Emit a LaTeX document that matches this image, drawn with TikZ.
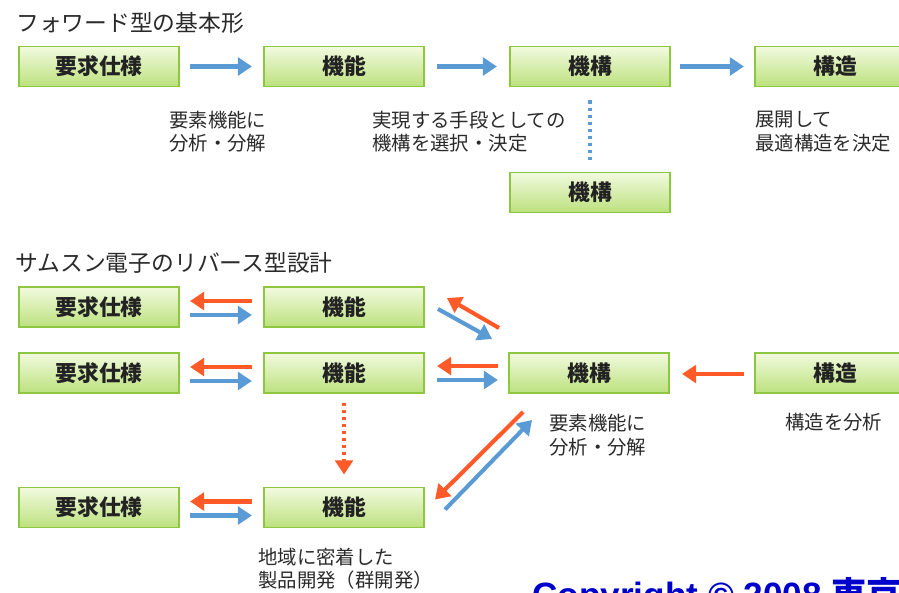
\documentclass[tikz,border=0pt]{standalone}
\usepackage{fontspec}
\setmainfont{Liberation Sans}
\newfontfamily\jp{Noto Sans CJK JP}
\usetikzlibrary{arrows.meta,calc}

\definecolor{boxline}{HTML}{8DC63F}
\definecolor{boxtop}{HTML}{F2FADF}
\definecolor{boxbottom}{HTML}{BCE17E}
\definecolor{arrblue}{HTML}{5B9BD5}
\definecolor{arrred}{HTML}{FF5A28}
\definecolor{txtdark}{HTML}{222222}
\definecolor{txtgray}{HTML}{2A2A2A}
\definecolor{cblue}{HTML}{0000CC}

\tikzset{
	kasten/.style={draw=boxline, line width=1.4pt, top color=boxtop, bottom color=boxbottom,
		minimum width=4.0cm, minimum height=1.0cm, inner sep=0pt,
		font=\jp\bfseries\fontsize{15.5}{18}\selectfont, text=txtdark},
	blau/.style={-{Triangle[length=10pt,width=12.5pt]}, line width=2.9pt, arrblue},
	rot/.style={-{Triangle[length=10pt,width=12.5pt]}, line width=2.9pt, arrred},
	punkte/.style={line width=2.4pt, dash pattern=on 2.3pt off 2.7pt, arrblue},
	notiz/.style={anchor=west, align=left, inner sep=0pt,
		font=\jp\fontsize{13.8}{16.6}\selectfont, text=txtgray},
	titel/.style={anchor=west, inner sep=0pt, font=\jp\fontsize{16.2}{18}\selectfont, text=txtgray}
}

\begin{document}
\begin{tikzpicture}
	[
	x=0.025cm, y=-0.025cm
	%Pixelraster des Originals, y nach unten
	]
	\useasboundingbox (0,0) rectangle (899,592);
	\clip (0,0) rectangle (899,592);
	
	%Vorwaerts
	\node[titel] (t1) at (16,23) {フォワード型の基本形};
	\node[kasten] (req) at (99,66.5) {要求仕様};
	\node[kasten] (func) at (344,66.5) {機能};
	\node[kasten] (mech) at (590,66.5) {機構};
	\node[kasten] (struct) at (835,66.5) {構造};
	\node[kasten] (mech2) at (590,192.5) {機構};
	
	\draw[blau] ($(req.east)+(10,0)$) -- ($(func.west)+(-11,0)$);
	\draw[blau] ($(func.east)+(12,0)$) -- ($(mech.west)+(-12,0)$);
	\draw[blau] ($(mech.east)+(9,0)$) -- ($(struct.west)+(-10,0)$);
	\draw[punkte] ($(mech.south)+(0,13)$) -- ($(mech2.north)+(0,-10)$);
	
	\node[notiz] (n1) at (169,131.5) {要素機能に\\分析・分解};
	\node[notiz] (n2) at (372,131.5) {実現する手段としての\\機構を選択・決定};
	\node[notiz] (n3) at (755,131.5) {展開して\\最適構造を決定};
	
	%Rueckwaerts
	\node[titel] (t2) at (15,263) {サムスン電子のリバース型設計};
	\node[kasten] (reqA) at (99,307) {要求仕様};
	\node[kasten] (funcA) at (344,307) {機能};
	\node[kasten] (reqB) at (99,373) {要求仕様};
	\node[kasten] (funcB) at (344,373) {機能};
	\node[kasten] (mechB) at (589,373) {機構};
	\node[kasten] (structB) at (835,373) {構造};
	\node[kasten] (reqC) at (99,507.5) {要求仕様};
	\node[kasten] (funcC) at (344,507.5) {機能};
	
	\draw[rot] ($(funcA.west)+(-11,-6)$) -- ($(reqA.east)+(10,-6)$);
	\draw[blau] ($(reqA.east)+(10,8)$) -- ($(funcA.west)+(-11,8)$);
	\draw[rot] ($(funcB.west)+(-11,-6)$) -- ($(reqB.east)+(10,-6)$);
	\draw[blau] ($(reqB.east)+(10,8)$) -- ($(funcB.west)+(-11,8)$);
	\draw[rot] ($(funcC.west)+(-11,-6)$) -- ($(reqC.east)+(10,-6)$);
	\draw[blau] ($(reqC.east)+(10,8)$) -- ($(funcC.west)+(-11,8)$);
	\draw[rot] ($(mechB.west)+(-10,-7)$) -- ($(funcB.east)+(12,-7)$);
	\draw[blau] ($(funcB.east)+(12,7)$) -- ($(mechB.west)+(-10,7)$);
	\draw[rot] ($(structB.west)+(-10,1)$) -- ($(mechB.east)+(12,1)$);
	
	\draw[rot] ($(funcA.south east)+(74,0)$) -- ($(funcA.south east)+(22,-30)$);
	\draw[blau] ($(funcA.south east)+(13,-19)$) -- ($(funcA.south east)+(67,11)$);
	\draw[rot] ($(mechB.south west)+(15,18)$) -- ($(funcC.north east)+(10,13)$);
	\draw[blau] ($(funcC.north east)+(20,23)$) -- ($(mechB.south west)+(24,26)$);
	\draw[rot, dash pattern=on 2.3pt off 2.7pt, line width=2.4pt] ($(funcB.south)+(0,9)$) -- ($(funcC.north)+(0,-12)$);
	
	\node[notiz] (n4) at (549,435) {要素機能に\\分析・分解};
	\node[notiz] (n5) at (785,422) {構造を分析};
	\node[notiz] (n6) at (258,569) {地域に密着した\\製品開発（群開発）};
	
	%Copyright
	\node[anchor=base west, inner sep=0pt, font=\bfseries\fontsize{25}{28}\selectfont, text=cblue] (copy) at (532,607) {Copyright © 2008 {\jp 東京}};
\end{tikzpicture}
\end{document}
